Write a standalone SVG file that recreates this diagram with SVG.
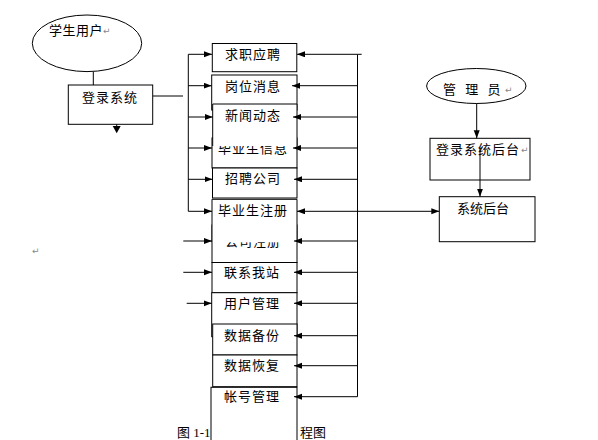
<svg xmlns="http://www.w3.org/2000/svg" width="598" height="440" viewBox="0 0 598 440">
<style>
.box{fill:#fff;stroke:#000;stroke-width:1}
.nb{fill:#fff;stroke:none}
.edge{fill:none;stroke:#000;stroke-width:1}
.t{font-family:"Liberation Serif","Noto Sans CJK SC",serif;font-size:13px;fill:#000;dominant-baseline:central}
.m{text-anchor:middle;letter-spacing:1px}
.pm{font-family:"DejaVu Sans",sans-serif;font-size:9px;fill:#888;dominant-baseline:central}
</style>
<defs>
<marker id="ah" markerUnits="userSpaceOnUse" markerWidth="9" markerHeight="7" refX="8" refY="3" orient="auto">
<path d="M0,0 L8,3 L0,6 z" fill="#000"/>
</marker>
</defs>
<rect width="598" height="440" fill="#fff"/>

<g id="caption">
<text class="t" x="177" y="432" font-size="12">图 1-1<tspan x="300">程图</tspan></text>
</g>

<g id="student">
<ellipse cx="87" cy="43.3" rx="54.7" ry="28.3" fill="#fff" stroke="#000"/>
<text class="t" x="49" y="30" letter-spacing="0.5">学生用户</text>
<text class="pm" x="103" y="31">↵</text>
</g>

<g id="login">
<rect class="box" x="68.3" y="85" width="84.4" height="39.3"/>
<text class="t" x="82" y="97" letter-spacing="1">登录系统</text>
</g>

<g id="admin">
<ellipse cx="476.3" cy="86" rx="49.7" ry="17.5" fill="#fff" stroke="#000"/>
<text class="t" x="443" y="89" letter-spacing="3" xml:space="preserve">管 理 员</text>
<text class="pm" x="505" y="90">↵</text>
</g>

<g id="adminLogin">
<rect class="box" x="430" y="138.3" width="100" height="41.7"/>
<text class="t" x="436" y="149" letter-spacing="1">登录系统后台</text>
<text class="pm" x="521" y="150">↵</text>
</g>

<g id="backend">
<rect class="box" x="439.3" y="196.7" width="95.7" height="45"/>
<text class="t" x="457" y="208">系统后台</text>
</g>

<g id="n1"><rect class="box" x="212.3" y="43.5" width="84.5" height="28.2"/><text class="t m" x="253" y="54">求职应聘</text></g>
<g id="n2"><rect class="box" x="211.7" y="75" width="85.3" height="35"/><text class="t m" x="253" y="86.5">岗位消息</text></g>
<g id="n4"><rect class="box" x="212" y="138" width="85" height="30"/><text class="t m" x="253" y="148">毕业生信息</text></g>
<g id="n3"><rect class="nb" x="212.7" y="104" width="84.3" height="42"/><path class="edge" d="M212.7,146 V104 H297 V146"/><text class="t m" x="253" y="115">新闻动态</text></g>
<g id="n5"><rect class="box" x="212.5" y="168" width="84.5" height="30"/><text class="t m" x="253" y="178">招聘公司</text></g>
<g id="n7"><rect class="box" x="212" y="225" width="85" height="37.5"/><text class="t m" x="253" y="241">公司注册</text></g>
<g id="n6"><rect class="nb" x="212" y="199.3" width="85" height="43"/><path class="edge" d="M212,242.3 V199.3 H297 V242.3"/><text class="t m" x="253" y="210">毕业生注册</text></g>
<g id="n8"><rect class="box" x="212" y="262.5" width="85" height="30.2"/><text class="t m" x="252" y="272">联系我站</text></g>
<g id="n9"><rect class="box" x="211.7" y="292.7" width="85.3" height="44"/><text class="t m" x="252" y="303">用户管理</text></g>
<g id="n10"><rect class="box" x="212.7" y="324" width="84.3" height="31"/><text class="t m" x="252" y="335">数据备份</text></g>
<g id="n11"><rect class="box" x="212.7" y="355" width="84.3" height="31.7"/><text class="t m" x="252" y="365.5">数据恢复</text></g>
<g id="n12"><rect class="box" x="211" y="387.3" width="86" height="70"/><text class="t m" x="252" y="396.5">帐号管理</text></g>

<g id="connectors">
<path class="edge" d="M93.3,71.7 V85"/>
<path class="edge" d="M116.7,124.3 V127"/>
<path d="M112.7,126 L120.7,126 L116.7,133.3 z" fill="#000"/>
<path class="edge" d="M153,96 H183"/>
<path class="edge" d="M188.3,54.3 V211.3"/>
<path class="edge" marker-end="url(#ah)" d="M188.3,54.3 H212"/>
<path class="edge" marker-end="url(#ah)" d="M188.3,85.7 H211.7"/>
<path class="edge" marker-end="url(#ah)" d="M188.3,117 H212.7"/>
<path class="edge" marker-end="url(#ah)" d="M188.3,148 H212"/>
<path class="edge" marker-end="url(#ah)" d="M188.3,179.3 H212.5"/>
<path class="edge" marker-end="url(#ah)" d="M188.3,211.3 H212"/>
<path class="edge" marker-end="url(#ah)" d="M183.3,241 H212"/>
<path class="edge" marker-end="url(#ah)" d="M183.3,272.3 H212"/>
<path class="edge" marker-end="url(#ah)" d="M186.7,303.3 H211.7"/>
<path class="edge" d="M357.5,54.3 V396.7 M357.5,54.3 H361.7"/>
<path class="edge" marker-end="url(#ah)" d="M357.5,54.3 H297"/>
<path class="edge" marker-end="url(#ah)" d="M357.5,85.7 H292"/>
<path class="edge" marker-end="url(#ah)" d="M357.5,117 H293"/>
<path class="edge" marker-end="url(#ah)" d="M357.5,148 H293"/>
<path class="edge" marker-end="url(#ah)" d="M357.5,179.3 H294"/>
<path class="edge" marker-end="url(#ah)" d="M357.5,211.3 H297"/>
<path class="edge" marker-end="url(#ah)" d="M357.5,211.3 H439.3"/>
<path class="edge" marker-end="url(#ah)" d="M357.5,241 H294"/>
<path class="edge" marker-end="url(#ah)" d="M357.5,272.3 H294"/>
<path class="edge" marker-end="url(#ah)" d="M357.5,303.3 H294"/>
<path class="edge" marker-end="url(#ah)" d="M357.5,335.7 H294"/>
<path class="edge" marker-end="url(#ah)" d="M357.5,365.7 H294"/>
<path class="edge" marker-end="url(#ah)" d="M357.5,396.7 H294"/>
<path class="edge" marker-end="url(#ah)" d="M476.7,103.5 V138.3"/>
<path class="edge" marker-end="url(#ah)" d="M480,148 V196.7"/>
</g>

<text class="pm" x="32" y="251">↵</text>
</svg>
